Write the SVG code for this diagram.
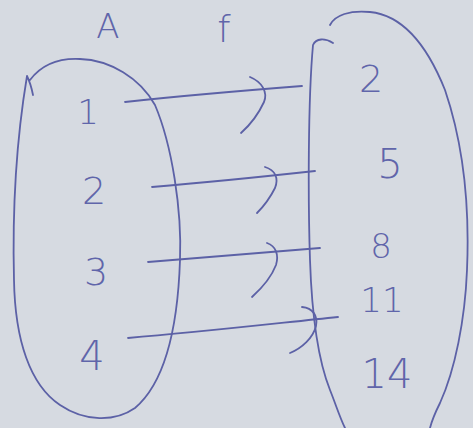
<svg xmlns="http://www.w3.org/2000/svg" width="473" height="428" viewBox="0 0 473 428">
<style>
.ink{fill:none;stroke:#5c61a6;stroke-width:1.8;stroke-linecap:round;stroke-linejoin:round}
.lbl{font-family:"DejaVu Sans","Liberation Sans",sans-serif;font-weight:200;fill:#6065aa;text-anchor:middle}
</style>
<rect width="473" height="428" fill="#d6dae1"/>
<g id="titles">
<text class="lbl" x="108" y="38" font-size="34">A</text>
<text class="lbl" x="224" y="42" font-size="38">f</text>
</g>
<g id="setA">
<path class="ink" d="M27,76 C30,82 32,90 33,95 M30,80 C42,64 60,58 80,59 C110,60 140,78 155,105 C172,145 182,210 180,260 C178,320 168,380 135,408 C115,422 85,422 60,405 C30,385 15,340 14,280 C12,200 18,130 27,76"/>
<text class="lbl" x="88" y="124" font-size="34">1</text>
<text class="lbl" x="94" y="204" font-size="38">2</text>
<text class="lbl" x="96" y="285" font-size="38">3</text>
<text class="lbl" x="92" y="370" font-size="40">4</text>
</g>
<g id="setB">
<path class="ink" d="M333,43 C325,38 316,38 313,45 C308,100 308,200 310,260 C312,320 318,360 330,390 C336,405 340,418 345,428"/>
<path class="ink" d="M330,25 C335,15 350,10 370,12 C400,15 425,40 445,90 C462,140 470,200 467,270 C465,320 455,370 440,403 C435,413 432,420 430,428"/>
<text class="lbl" x="371" y="92" font-size="38">2</text>
<text class="lbl" x="390" y="178" font-size="40">5</text>
<text class="lbl" x="381" y="258" font-size="34">8</text>
<text class="lbl" x="382" y="312" font-size="34">11</text>
<text class="lbl" x="387" y="388" font-size="40">14</text>
</g>
<g id="connectors">
<path class="ink" d="M125,102 C180,96 250,90 302,86"/>
<path class="ink" d="M250,77 C262,82 268,92 264,102 C258,115 250,125 241,133"/>
<path class="ink" d="M152,187 C200,183 260,177 315,171"/>
<path class="ink" d="M265,167 C275,170 279,178 275,188 C270,198 264,206 257,213"/>
<path class="ink" d="M148,262 C200,258 260,253 320,248"/>
<path class="ink" d="M267,243 C276,246 279,255 276,265 C271,278 262,288 252,297"/>
<path class="ink" d="M128,338 C200,332 270,324 338,317"/>
<path class="ink" d="M302,307 C313,308 318,316 316,326 C313,338 302,348 290,353"/>
</g>
</svg>
